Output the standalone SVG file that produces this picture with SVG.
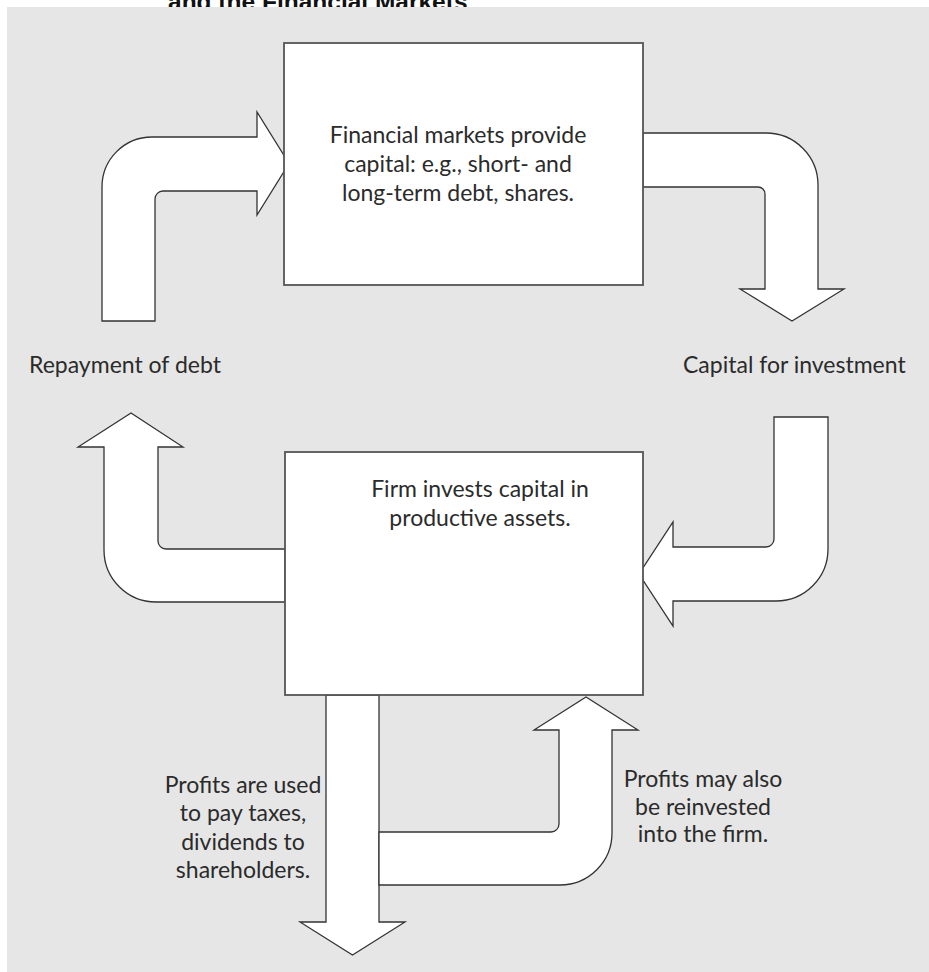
<svg xmlns="http://www.w3.org/2000/svg" width="929" height="972" viewBox="0 0 929 972">
<style>
.arrow{fill:#fff;stroke:#333;stroke-width:1.3;stroke-linejoin:miter}
.box{fill:#fff;stroke:#555;stroke-width:1.8}
.t{font-family:Lato,"Open Sans","Liberation Sans",sans-serif;font-size:23px;fill:#2b2b2b}
.c{text-anchor:middle}
.title{font-family:"Liberation Sans",Arial,sans-serif;font-weight:bold;font-size:24.5px;fill:#111}
</style>
<rect x="0" y="0" width="929" height="972" fill="#fff"/>
<text class="title" x="168" y="10">and the Financial Markets</text>
<rect x="7" y="7" width="922" height="965" fill="#e6e6e6"/>
<g id="connectors">
<path id="repay-top" class="arrow" d="M102 321 L102 187 A50 50 0 0 1 152 137 L257 137 L257 112 L289 163.5 L257 215 L257 191 L163 191 A8 8 0 0 0 155 199 L155 321 Z"/>
<path id="capital-top" class="arrow" d="M643 133 L766 133 A52 52 0 0 1 818 185 L818 289 L844 289 L792 321 L740 289 L765 289 L765 194 A7 7 0 0 0 758 187 L643 187 Z"/>
<path id="repay-bottom" class="arrow" d="M285 602 L156 602 A52 52 0 0 1 104 550 L104 447 L78 447 L131 413 L183 447 L158 447 L158 541 A8 8 0 0 0 166 549 L285 549 Z"/>
<path id="capital-bottom" class="arrow" d="M774 417 L828 417 L828 549 A52 52 0 0 1 776 601 L673 601 L673 626 L639 574 L673 522 L673 547 L766 547 A8 8 0 0 0 774 539 Z"/>
<path id="profits-down" class="arrow" d="M326 695 L379 695 L379 922 L405 922 L352.5 955 L300 922 L326 922 Z"/>
<path id="profits-reinvest" class="arrow" d="M379 832 L551 832 A8 8 0 0 0 559 824 L559 730 L534 730 L586 697 L638 730 L612 730 L612 833 A52 52 0 0 1 560 885 L379 885 Z"/>
</g>
<g id="financial-markets">
<rect class="box" x="284" y="43" width="359" height="242"/>
<text class="t c" x="458" y="143">Financial markets provide</text>
<text class="t c" x="458" y="172">capital: e.g., short- and</text>
<text class="t c" x="458" y="201">long-term debt, shares.</text>
</g>
<g id="firm">
<rect class="box" x="285" y="452" width="358" height="243"/>
<text class="t c" x="480" y="497">Firm invests capital in</text>
<text class="t c" x="480" y="526">productive assets.</text>
</g>
<g id="labels">
<text class="t" x="29" y="373">Repayment of debt</text>
<text class="t" x="683" y="373">Capital for investment</text>
<text class="t c" x="243" y="793">Profits are used</text>
<text class="t c" x="243" y="821">to pay taxes,</text>
<text class="t c" x="243" y="850">dividends to</text>
<text class="t c" x="243" y="878">shareholders.</text>
<text class="t c" x="703" y="787">Profits may also</text>
<text class="t c" x="703" y="815">be reinvested</text>
<text class="t c" x="703" y="842">into the firm.</text>
</g>
</svg>
